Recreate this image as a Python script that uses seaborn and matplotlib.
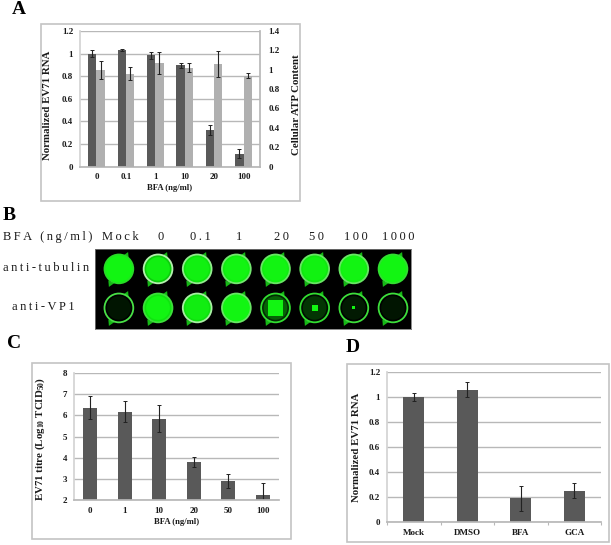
import numpy as np
import pandas as pd
import matplotlib
matplotlib.use('Agg')
import matplotlib.pyplot as plt
from matplotlib.colors import LinearSegmentedColormap
from matplotlib.patches import Rectangle
import seaborn as sns

# panel A
doses_a = ['0', '0.1', '1', '10', '20', '100']
rna_a = [1.0, 1.03, 0.985, 0.895, 0.32, 0.115]
rna_a_err = [0.03, 0.01, 0.03, 0.02, 0.045, 0.04]
atp_a = [1.0, 0.96, 1.07, 1.02, 1.06, 0.94]
atp_a_err = [0.095, 0.065, 0.115, 0.045, 0.135, 0.03]

# panel B
wells_b = ['Mock', '0', '0.1', '1', '20', '50', '100', '1000']
tubulin_fill = [1.0, 0.85, 0.88, 0.97, 0.97, 0.92, 0.97, 1.0]
tubulin_gap = [1.0, 0.45, 0.55, 0.8, 0.85, 0.7, 0.9, 1.0]
tubulin_ring = [0.1, 0.75, 0.6, 0.45, 0.4, 0.4, 0.4, 0.15]
vp1_fill = [0.05, 1.0, 0.82, 1.0, 0.22, 0.12, 0.06, 0.05]
vp1_gap = [0.0, 0.6, 0.5, 1.0, 0.1, 0.03, 0.0, 0.0]
vp1_ring = [0.25, 0.2, 0.7, 0.4, 0.15, 0.15, 0.2, 0.2]
vp1_spot = [0, 0, 0, 0, 130, 18, 5, 0]

# panel C
doses_c = ['0', '1', '10', '20', '50', '100']
titre_c = [6.37, 6.18, 5.85, 3.8, 2.9, 2.23]
titre_c_err = [0.52, 0.48, 0.63, 0.25, 0.35, 0.57]

# panel D
treatments_d = ['Mock', 'DMSO', 'BFA', 'GCA']
rna_d = [1.0, 1.06, 0.19, 0.25]
rna_d_err = [0.03, 0.06, 0.1, 0.06]

W, H = 611, 545
DARK = '#595959'
LIGHT = '#b0b0b0'
GRID = '#b8b8b8'
FRAME = '#c4c4c4'
TXT = '#1a1a1a'

sns.set_theme(style='white')
plt.rcParams['font.family'] = ['Liberation Serif', 'DejaVu Serif']
plt.rcParams['font.weight'] = 'bold'
plt.rcParams['mathtext.fontset'] = 'custom'
plt.rcParams['mathtext.rm'] = 'Liberation Serif:bold'
plt.rcParams['mathtext.default'] = 'rm'

fig = plt.figure(figsize=(W / 100, H / 100), dpi=100, facecolor='white')


def px_axes(x0, y0, x1, y1):
    return fig.add_axes([x0 / W, 1 - y1 / H, (x1 - x0) / W, (y1 - y0) / H])


def frame(x0, y0, x1, y1):
    fig.add_artist(Rectangle((x0 / W, 1 - y1 / H), (x1 - x0) / W, (y1 - y0) / H,
                             transform=fig.transFigure, fill=False, ec=FRAME, lw=1.2))


def panel_letter(s, x, y):
    fig.text(x / W, 1 - y / H, s, fontsize=14, fontweight='bold', color='black', va='center')


def spaced_text(s, x, y, **kw):
    fig.text(x / W, 1 - y / H, '\u2009'.join(s), fontsize=9, fontweight='normal',
             color=TXT, va='center', **kw)


def style_axes(ax, ticksize=6.5):
    for name in ['top', 'right']:
        ax.spines[name].set_visible(False)
    ax.spines['bottom'].set_color(GRID)
    ax.spines['left'].set_color('#d4d4d4')
    ax.set_axisbelow(True)
    ax.grid(axis='y', color=GRID, lw=1)
    ax.grid(axis='x', visible=False)
    ax.tick_params(axis='both', labelsize=ticksize, length=0, pad=5, colors=TXT)


def bars(ax, cats, vals, errs, width):
    df = pd.DataFrame({'cat': cats, 'val': vals})
    sns.barplot(data=df, x='cat', y='val', color=DARK, saturation=1, width=width,
                linewidth=0, ax=ax)
    ax.errorbar(np.arange(len(cats)), vals, yerr=errs, fmt='none', ecolor='#222222',
                elinewidth=0.8, capsize=1.3, capthick=0.7)
    ax.set_xlabel('')
    ax.set_ylabel('')


# A
frame(41, 23.5, 300, 201)
panel_letter('A', 12, 10)
ax_a = px_axes(80, 31, 260, 166.5)
df_rna = pd.DataFrame({'dose': doses_a, 'val': rna_a, 'series': 'rna'})
df_atp = pd.DataFrame({'dose': doses_a, 'val': atp_a, 'series': 'atp'})
hue_order = ['rna', 'atp']
colors = {'rna': DARK, 'atp': LIGHT}
sns.barplot(data=df_rna, x='dose', y='val', hue='series', hue_order=hue_order, palette=colors,
            saturation=1, width=0.56, dodge=True, linewidth=0, legend=False, ax=ax_a)
ax_a.set_ylim(0, 1.2)
ax_a.set_yticks(np.arange(0, 1.21, 0.2))
ax_a.set_yticklabels(['0', '0.2', '0.4', '0.6', '0.8', '1', '1.2'])
style_axes(ax_a)
ax_a.set_xlabel('BFA (ng/ml)', fontsize=6.2, fontweight='bold', labelpad=2, color=TXT)
ax_a.set_ylabel('Normalized EV71 RNA', fontsize=7.8, fontweight='bold', color=TXT)
ax_a.yaxis.set_label_coords((52 - 80) / 180, 0.45)
ax_b2 = ax_a.twinx()
sns.barplot(data=df_atp, x='dose', y='val', hue='series', hue_order=hue_order, palette=colors,
            saturation=1, width=0.56, dodge=True, linewidth=0, legend=False, ax=ax_b2)
ax_b2.set_ylim(0, 1.4)
ax_b2.set_yticks(np.arange(0, 1.41, 0.2))
ax_b2.set_yticklabels(['0', '0.2', '0.4', '0.6', '0.8', '1', '1.2', '1.4'])
for name in ['top', 'left', 'bottom']:
    ax_b2.spines[name].set_visible(False)
ax_b2.spines['right'].set_color(GRID)
ax_b2.grid(False)
ax_b2.tick_params(axis='y', labelsize=6.5, length=0, pad=6, colors=TXT)
ax_b2.set_ylabel('Cellular ATP Content', fontsize=7.8, fontweight='bold', color=TXT)
ax_b2.yaxis.set_label_coords((292 - 80) / 180, 0.454)
pos = np.arange(len(doses_a))
ax_a.errorbar(pos - 0.14, rna_a, yerr=rna_a_err, fmt='none', ecolor='#222222',
              elinewidth=0.8, capsize=1.2, capthick=0.7)
ax_b2.errorbar(pos + 0.14, atp_a, yerr=atp_a_err, fmt='none', ecolor='#222222',
               elinewidth=0.8, capsize=1.2, capthick=0.7)

# B
panel_letter('B', 3, 215)
ax_w = px_axes(95, 249, 411, 329)
ax_w.set_facecolor('black')
ax_w.set_xlim(-0.61, 7.46)
ax_w.set_ylim(1.54, -0.51)
ax_w.set_xticks([])
ax_w.set_yticks([])
for s in ax_w.spines.values():
    s.set_color('#777777')
    s.set_linewidth(0.6)
green = LinearSegmentedColormap.from_list('gfp', ['#000000', '#0ee00e', '#12f512'])
ring_cm = LinearSegmentedColormap.from_list('ring', ['#12d812', '#e8f8e0'])
idx = np.arange(len(wells_b))
rows = [(tubulin_fill, tubulin_gap, tubulin_ring), (vp1_fill, vp1_gap, vp1_ring)]
for row, (fill, gap, ring) in enumerate(rows):
    y = np.full(len(idx), row)
    # tabs on the well rim
    ax_w.scatter(idx + 0.17, y - 0.36, s=30, marker=(3, 0, -25), color='#16b816', lw=0)
    ax_w.scatter(idx - 0.23, y + 0.36, s=30, marker=(3, 0, 155), color='#16b816', lw=0)
    ax_w.scatter(idx, y, s=430, c=gap, cmap=green, vmin=0, vmax=1,
                 edgecolors=ring_cm(np.array(ring)), linewidths=1.3)
    ax_w.scatter(idx, y, s=290, c=fill, cmap=green, vmin=0, vmax=1, lw=0)
ax_w.scatter(idx, np.ones(len(idx)), s=vp1_spot, marker='s', color='#12f512', lw=0)

spaced_text('BFA (ng/ml)', 3, 237)
for name, xc in zip(wells_b, [120, 161, 200, 239, 281, 316, 356, 398]):
    spaced_text(name, xc, 237, ha='center')
spaced_text('anti-tubulin', 3, 268)
spaced_text('anti-VP1', 12, 307)

# C
frame(32, 363, 291, 539)
panel_letter('C', 7, 344)
ax_c = px_axes(74, 373, 279, 500)
bars(ax_c, doses_c, titre_c, titre_c_err, 0.4)
ax_c.set_ylim(2, 8)
ax_c.set_yticks(range(2, 9))
style_axes(ax_c)
ax_c.set_xlabel('BFA (ng/ml)', fontsize=6.2, fontweight='bold', labelpad=2, color=TXT)
ax_c.set_ylabel('EV71 titre (Log$_{10}$ TCID$_{50}$)', fontsize=7.8, fontweight='bold', color=TXT)
ax_c.yaxis.set_label_coords((47 - 74) / 205, 0.484)

# D
frame(347, 364, 609, 542)
panel_letter('D', 346, 348)
ax_d = px_axes(387, 372, 601, 522)
bars(ax_d, treatments_d, rna_d, rna_d_err, 0.4)
ax_d.set_ylim(0, 1.2)
ax_d.set_yticks(np.arange(0, 1.21, 0.2))
ax_d.set_yticklabels(['0', '0.2', '0.4', '0.6', '0.8', '1', '1.2'])
style_axes(ax_d)
ax_d.set_ylabel('Normalized EV71 RNA', fontsize=7.8, fontweight='bold', color=TXT)
ax_d.yaxis.set_label_coords((361 - 387) / 214, 0.5)
ax_d.set_xticks(np.arange(-0.5, 4, 1), minor=True)
ax_d.tick_params(axis='x', which='minor', length=2, color=GRID, width=0.8, bottom=True)

fig.savefig('out.png', dpi=100)
